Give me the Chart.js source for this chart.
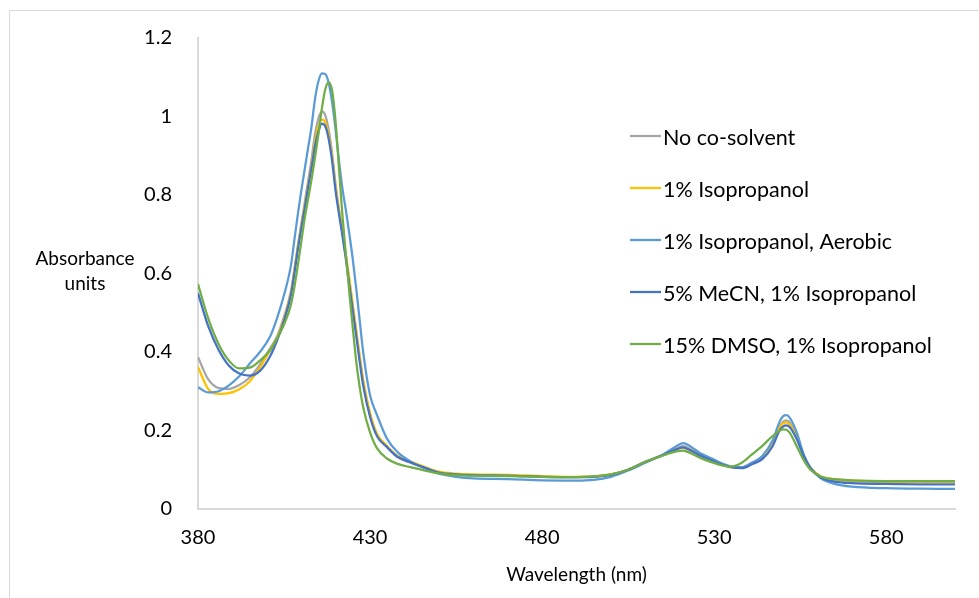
<!DOCTYPE html>
<html>
<head>
<meta charset="utf-8">
<title>Absorbance spectra</title>
<script src="https://cdn.jsdelivr.net/npm/chart.js@4.4.1/dist/chart.umd.min.js"></script>
<style>
    html, body { margin: 0; padding: 0; background: #ffffff; }
    #wrap { position: relative; width: 979px; height: 598px; }
</style>
</head>
<body>
<div id="wrap"><canvas id="spectraChart" width="979" height="598"></canvas></div>
<script>
const wavelengths = [
    380, 383, 386, 389, 392, 395, 398, 401,
    403, 405, 407, 408, 409, 410, 411, 412, 413, 414,
    415, 416, 417, 418, 419, 420, 421, 422, 423, 424,
    425, 426, 427, 428, 430, 432, 435, 438,
    442, 446, 450, 455, 460, 470, 480, 490, 495, 500,
    505, 510, 515, 519, 521, 523, 526, 529, 532, 535,
    538, 541, 544, 547, 549, 550, 551, 552, 554, 556,
    558, 561, 565, 570, 580, 590, 600,
];

const noCosolvent = [
    0.387, 0.33, 0.308, 0.306, 0.316, 0.335, 0.368, 0.41,
    0.44, 0.49, 0.555, 0.61, 0.67, 0.725, 0.78, 0.835, 0.89, 0.955,
    0.995, 1.013, 1.003, 0.965, 0.905, 0.825, 0.76, 0.705, 0.645, 0.58,
    0.515, 0.45, 0.385, 0.325, 0.24, 0.19, 0.158, 0.132,
    0.117, 0.104, 0.093, 0.088, 0.086, 0.085, 0.082, 0.081, 0.083, 0.088,
    0.1, 0.12, 0.137, 0.154, 0.16, 0.153, 0.137, 0.126, 0.116, 0.108,
    0.106, 0.118, 0.132, 0.168, 0.21, 0.222, 0.226, 0.22, 0.185, 0.138,
    0.105, 0.083, 0.075, 0.071, 0.069, 0.069, 0.069,
];

const isopropanol = [
    0.362, 0.305, 0.293, 0.295, 0.305, 0.325, 0.36, 0.405,
    0.435, 0.485, 0.55, 0.605, 0.665, 0.72, 0.77, 0.825, 0.875, 0.935,
    0.975, 0.992, 0.985, 0.952, 0.895, 0.82, 0.76, 0.705, 0.645, 0.585,
    0.52, 0.455, 0.39, 0.33, 0.245, 0.192, 0.16, 0.135,
    0.12, 0.107, 0.095, 0.09, 0.088, 0.087, 0.084, 0.082, 0.083, 0.088,
    0.1, 0.12, 0.137, 0.152, 0.156, 0.15, 0.136, 0.125, 0.115, 0.107,
    0.106, 0.117, 0.131, 0.166, 0.207, 0.218, 0.221, 0.215, 0.182, 0.137,
    0.105, 0.083, 0.076, 0.072, 0.07, 0.07, 0.07,
];

const isopropanolAerobic = [
    0.31, 0.297, 0.3, 0.315, 0.338, 0.37, 0.4, 0.44,
    0.487, 0.545, 0.62, 0.685, 0.75, 0.81, 0.865, 0.92, 0.975, 1.045,
    1.09, 1.11, 1.108, 1.085, 1.035, 0.965, 0.885, 0.815, 0.76, 0.7,
    0.635, 0.56, 0.48, 0.4, 0.29, 0.24, 0.178, 0.145,
    0.12, 0.103, 0.09, 0.082, 0.078, 0.076, 0.073, 0.072, 0.074, 0.082,
    0.098, 0.118, 0.138, 0.16, 0.168, 0.16, 0.142, 0.13, 0.117, 0.108,
    0.106, 0.118, 0.135, 0.175, 0.222, 0.236, 0.239, 0.232, 0.195, 0.14,
    0.105, 0.078, 0.064, 0.057, 0.053, 0.052, 0.051,
];

const mecnIsopropanol = [
    0.55, 0.465, 0.405, 0.365, 0.345, 0.34, 0.352, 0.39,
    0.43, 0.48, 0.545, 0.6, 0.66, 0.715, 0.765, 0.82, 0.87, 0.925,
    0.962, 0.982, 0.975, 0.942, 0.885, 0.81, 0.75, 0.695, 0.635, 0.57,
    0.505, 0.44, 0.375, 0.315, 0.235, 0.186, 0.157, 0.133,
    0.118, 0.105, 0.093, 0.088, 0.086, 0.085, 0.082, 0.081, 0.082, 0.087,
    0.1, 0.12, 0.137, 0.152, 0.157, 0.15, 0.136, 0.125, 0.114, 0.106,
    0.104, 0.114, 0.127, 0.16, 0.2, 0.21, 0.213, 0.208, 0.178, 0.135,
    0.104, 0.08, 0.07, 0.066, 0.064, 0.063, 0.063,
];

const dmsoIsopropanol = [
    0.573, 0.485, 0.42, 0.378, 0.358, 0.36, 0.378, 0.405,
    0.435, 0.47, 0.52, 0.565, 0.62, 0.68, 0.74, 0.79, 0.84, 0.895,
    0.955, 1.02, 1.07, 1.087, 1.065, 0.985, 0.865, 0.745, 0.645, 0.55,
    0.46, 0.375, 0.31, 0.26, 0.195, 0.155, 0.128, 0.115,
    0.106, 0.098, 0.091, 0.086, 0.085, 0.084, 0.082, 0.081, 0.083, 0.088,
    0.1, 0.12, 0.136, 0.147, 0.149, 0.143, 0.13, 0.12, 0.112, 0.108,
    0.118, 0.139, 0.161, 0.186, 0.199, 0.203, 0.202, 0.194, 0.16, 0.125,
    0.1, 0.083, 0.076, 0.073, 0.071, 0.071, 0.071,
];

const seriesLabels = [
    'No co-solvent',
    '1% Isopropanol',
    '1% Isopropanol, Aerobic',
    '5% MeCN, 1% Isopropanol',
    '15% DMSO, 1% Isopropanol',
];
const xTicks = [380, 430, 480, 530, 580];
const yTicks = [0, 0.2, 0.4, 0.6, 0.8, 1, 1.2];

const fontFamily = 'Lato, "Open Sans", sans-serif';
const palette = ['#a5a5a5', '#ffc000', '#5b9bd5', '#4472c4', '#70ad47'];
const axisColor = '#d9d9d9';

function toPoints(values) {
    return wavelengths.map((w, i) => ({ x: w, y: values[i] }));
}

// frame, horizontal y title and the legend inside the plot
const decorations = {
    id: 'decorations',
    beforeDraw(chart) {
        const ctx = chart.ctx;
        ctx.save();
        ctx.strokeStyle = axisColor;
        ctx.lineWidth = 1;
        ctx.strokeRect(9.5, 10.5, 1100, 1100);
        ctx.restore();
    },
    afterDraw(chart) {
        const ctx = chart.ctx;
        ctx.save();
        ctx.fillStyle = '#000000';
        ctx.textAlign = 'center';
        ctx.textBaseline = 'middle';
        ctx.font = '19px ' + fontFamily;
        ctx.fillText('Absorbance', 85, 259);
        ctx.fillText('units', 85, 284);

        ctx.textAlign = 'left';
        ctx.font = '21.5px ' + fontFamily;
        chart.data.datasets.forEach((ds, i) => {
            const y = 136 + i * 52;
            ctx.strokeStyle = ds.borderColor;
            ctx.lineWidth = 2.25;
            ctx.beginPath();
            ctx.moveTo(630, y);
            ctx.lineTo(661, y);
            ctx.stroke();
            ctx.fillText(ds.label, 663, y + 2);
        });
        ctx.restore();
    },
};

const datasets = [noCosolvent, isopropanol, isopropanolAerobic, mecnIsopropanol, dmsoIsopropanol]
    .map((values, i) => ({
        label: seriesLabels[i],
        data: toPoints(values),
        borderColor: palette[i],
        backgroundColor: palette[i],
        borderWidth: 2.25,
        pointRadius: 0,
        fill: false,
        cubicInterpolationMode: 'monotone',
        order: 4 - i,
    }));

new Chart(document.getElementById('spectraChart'), {
    type: 'line',
    data: { datasets },
    options: {
        responsive: false,
        animation: false,
        devicePixelRatio: 1,
        layout: {
            autoPadding: false,
            padding: { left: 10, right: 24, top: 35, bottom: 9 },
        },
        plugins: {
            legend: { display: false },
            tooltip: { enabled: false },
        },
        scales: {
            x: {
                type: 'linear',
                min: 380,
                max: 600,
                afterBuildTicks: (scale) => { scale.ticks = xTicks.map((v) => ({ value: v })); },
                afterFit: (scale) => { scale.height = 80; },
                grid: { display: false, drawTicks: false },
                border: { display: true, color: axisColor, width: 2 },
                ticks: {
                    color: '#000000',
                    padding: 17,
                    maxRotation: 0,
                    font: { family: fontFamily, size: 20 },
                },
                title: {
                    display: true,
                    text: 'Wavelength (nm)',
                    color: '#000000',
                    font: { family: fontFamily, size: 19 },
                    padding: { top: 0, bottom: 3 },
                },
            },
            y: {
                type: 'linear',
                min: 0,
                max: 1.2,
                afterBuildTicks: (scale) => { scale.ticks = yTicks.map((v) => ({ value: v })); },
                afterFit: (scale) => { scale.width = 188; },
                grid: { display: false, drawTicks: false },
                border: { display: true, color: axisColor, width: 2 },
                ticks: {
                    color: '#000000',
                    padding: 26,
                    font: { family: fontFamily, size: 20 },
                    callback: (value) => String(value),
                },
            },
        },
    },
    plugins: [decorations],
});
</script>
</body>
</html>
